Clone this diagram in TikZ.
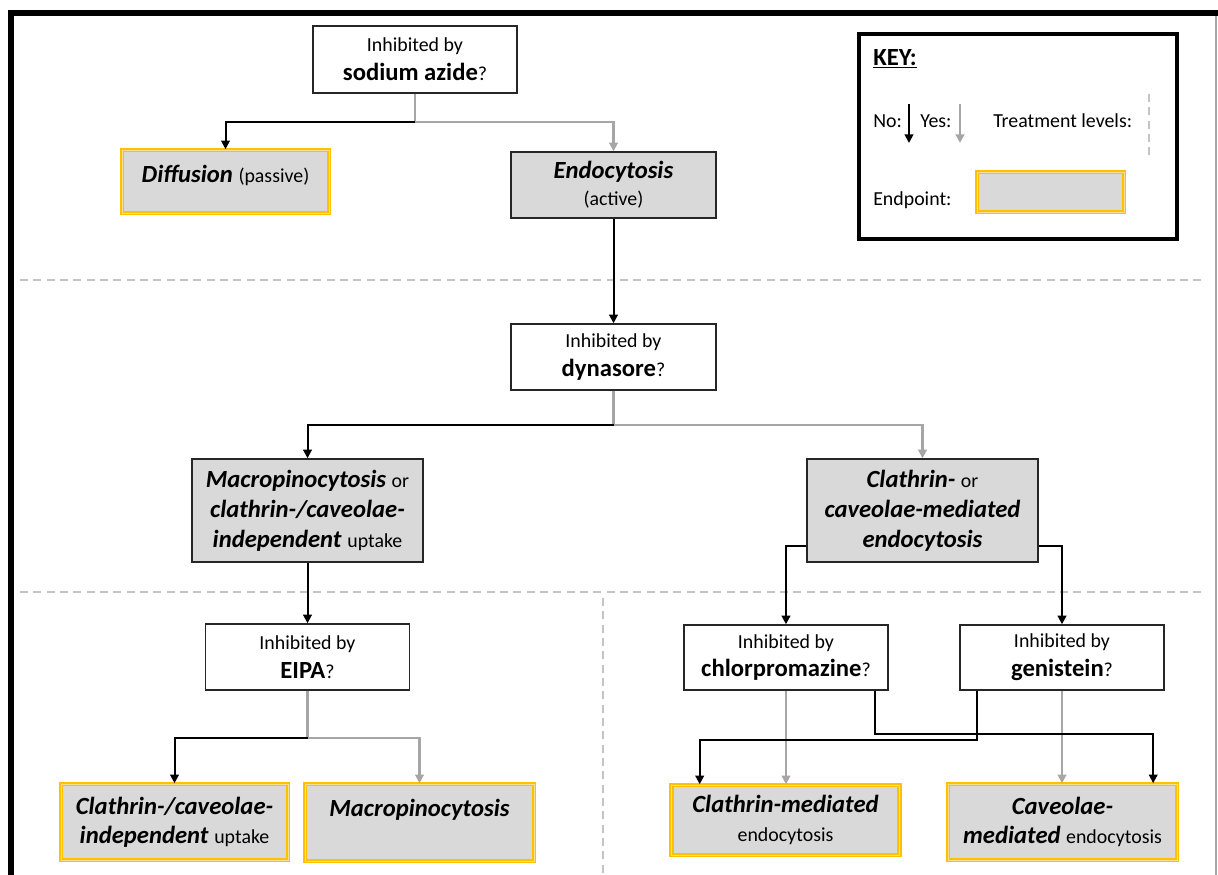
\documentclass[tikz,border=0pt]{standalone}
\usepackage{fontspec}
\setmainfont{Carlito}
\usetikzlibrary{arrows.meta,calc}
\definecolor{gfill}{HTML}{D9D9D9}
\definecolor{ylw}{HTML}{FFC000}
\definecolor{ylwl}{HTML}{F8DF95}
\definecolor{yesc}{HTML}{A6A6A6}
\definecolor{dashc}{HTML}{C4C4C4}
\definecolor{bord}{HTML}{262626}
\newdimen\px \px=0.75pt
\newcommand\sm[1]{{\fontsize{14.9pt}{\baselineskip}\selectfont #1}}
\newcommand\bi[1]{\textbf{\textit{#1}}}
\tikzset{
  qbox/.style={draw=bord, line width=1.1pt, fill=white, inner sep=0pt, align=center,
    font=\fontsize{18.5pt}{21.5pt}\selectfont},
  gbox/.style={draw=bord, line width=1.1pt, fill=gfill, inner sep=0pt, align=center,
    font=\fontsize{18.5pt}{22.5pt}\selectfont},
  endp/.style={draw=ylw, double=ylwl, double distance=0.7pt, line width=1.2pt, fill=gfill,
    inner sep=0pt, align=center, font=\fontsize{18.5pt}{22pt}\selectfont},
  txt/.style={inner sep=0pt, align=center, font=\fontsize{18.5pt}{22pt}\selectfont},
  ktxt/.style={inner sep=0pt, anchor=base west, font=\fontsize{14.9pt}{18pt}\selectfont},
  no/.style={draw=black, line width=1.5pt, -{Triangle[length=6.5pt,width=6.5pt]}},
  yes/.style={draw=yesc, line width=1.6pt, -{Triangle[length=6.5pt,width=6.5pt]}},
  lvl/.style={draw=dashc, line width=0.8pt, dash pattern=on 6pt off 4pt},
}
\begin{document}
\begin{tikzpicture}[x=0.75pt,y=-0.75pt]
\useasboundingbox (0,0) rectangle (1218,875);
% frame
\coordinate (f1) at (11,875);
\coordinate (f2) at (11,13);
\coordinate (f3) at (1216,13);
\coordinate (f4) at (1216,875);
\draw[yesc, line width=0.8pt] (f3) -- (f4);
\draw[black, line width=4.5pt] (f1) -- (f2) -- ([xshift=2pt]f3);

% treatment level dashed lines
\coordinate (d1a) at (20,280); \coordinate (d1b) at (1205,280);
\coordinate (d2a) at (20,592); \coordinate (d2b) at (1205,592);
\coordinate (d3a) at (603,598); \coordinate (d3b) at (603,875);
\draw[lvl] (d1a) -- (d1b);
\draw[lvl] (d2a) -- (d2b);
\draw[lvl] (d3a) -- (d3b);

% boxes
\node[qbox, minimum width=204\px, minimum height=67\px] (az) at (415,59.5)
  {\sm{Inhibited by}\\\textbf{sodium azide}\sm{?}};
\node[endp, minimum width=207\px, minimum height=63\px] (diff) at (225.5,181.5) {};
\node[txt] (difft) at (225.5,175) {\bi{Diffusion} \sm{(passive)}};
\node[gbox, minimum width=205\px, minimum height=66\px, font=\fontsize{18.5pt}{20.5pt}\selectfont] (endo) at (613.5,185)
  {\bi{Endocytosis}\\\sm{(active)}};
\node[qbox, minimum width=205\px, minimum height=66\px] (dyn) at (613.5,357)
  {\sm{Inhibited by}\\\textbf{dynasore}\sm{?}};
\node[gbox, minimum width=231\px, minimum height=103\px] (macro) at (307.5,510.5)
  {\bi{Macropinocytosis} \sm{or}\\\bi{clathrin-/caveolae-}\\\bi{independent} \sm{uptake}};
\node[gbox, minimum width=231\px, minimum height=103\px] (cc) at (922.5,510.5)
  {\bi{Clathrin-} \sm{or}\\\bi{caveolae-mediated}\\\bi{endocytosis}};
\node[qbox, minimum width=204\px, minimum height=66\px] (eipa) at (307.5,657)
  {\sm{Inhibited by}\\\textbf{EIPA}\sm{?}};
\node[qbox, minimum width=204\px, minimum height=65\px] (chl) at (786,657.5)
  {\sm{Inhibited by}\\\textbf{chlorpromazine}\sm{?}};
\node[qbox, minimum width=204\px, minimum height=65\px] (gen) at (1062,657.5)
  {\sm{Inhibited by}\\\textbf{genistein}\sm{?}};
\node[endp, minimum width=227\px, minimum height=76\px] (ind) at (174.5,822)
  {\bi{Clathrin-/caveolae-}\\\bi{independent} \sm{uptake}};
\node[endp, minimum width=229\px, minimum height=77\px] (mac) at (419.5,822.5) {};
\node[txt] (mact) at (419.5,810) {\bi{Macropinocytosis}};
\node[endp, minimum width=228\px, minimum height=70\px] (clm) at (785.5,820)
  {\bi{Clathrin-mediated}\\\sm{endocytosis}};
\node[endp, minimum width=229\px, minimum height=76\px] (cav) at (1062.5,822)
  {\bi{Caveolae-}\\\bi{mediated} \sm{endocytosis}};

% connectors
\coordinate (j1) at (415,122);
\draw[yes] (az.south) -- (j1) -| (endo.north);
\draw[no] (j1) -| (diff.north);
\draw[no] (endo.south) -- (dyn.north);
\coordinate (j2) at (613.5,425);
\draw[yes] (dyn.south) -- (j2) -| (cc.north);
\draw[no] (j2) -| (macro.north);
\draw[no] (macro.south) -- (eipa.north);
\coordinate (j3) at (307.5,738);
\draw[yes] (eipa.south) -- (j3) -| (mac.north);
\draw[no] (j3) -| (ind.north);
\draw[no] ($(cc.south west)+(0,-17)$) -| (chl.north);
\draw[no] ($(cc.south east)+(0,-17)$) -| (gen.north);
\draw[yes] (chl.south) -- (chl.south |- clm.north);
\draw[yes] (gen.south) -- (gen.south |- cav.north);
\draw[no] ($(chl.south west)+(192,0)$) |- ($(cav.north west)+(206,-49)$) -- ($(cav.north west)+(206,0)$);
\draw[no] ($(gen.south west)+(18,0)$) |- ($(clm.north west)+(29,-44)$) -- ($(clm.north west)+(29,0)$);

% key
\node[draw=black, line width=3pt, minimum width=318\px, minimum height=205\px, inner sep=0pt] (key) at (1018,136.5) {};
\node[ktxt, font=\fontsize{18.5pt}{20pt}\selectfont\bfseries] (keyt) at (873,65) {\underline{KEY:}};
\node[ktxt] (kno) at (873,127) {No:};
\coordinate (kn1) at (909,104); \coordinate (kn2) at (909,143);
\draw[no] (kn1) -- (kn2);
\node[ktxt] (kyes) at (920,127) {Yes:};
\coordinate (ky1) at (960,104); \coordinate (ky2) at (960,143);
\draw[yes] (ky1) -- (ky2);
\node[ktxt] (ktl) at (993,127) {Treatment levels:};
\coordinate (kl1) at (1149,94); \coordinate (kl2) at (1149,156);
\draw[lvl] (kl1) -- (kl2);
\node[ktxt] (kend) at (873,205) {Endpoint:};
\node[endp, minimum width=147\px, minimum height=40\px] (ksw) at (1050.5,192) {};
\end{tikzpicture}
\end{document}
